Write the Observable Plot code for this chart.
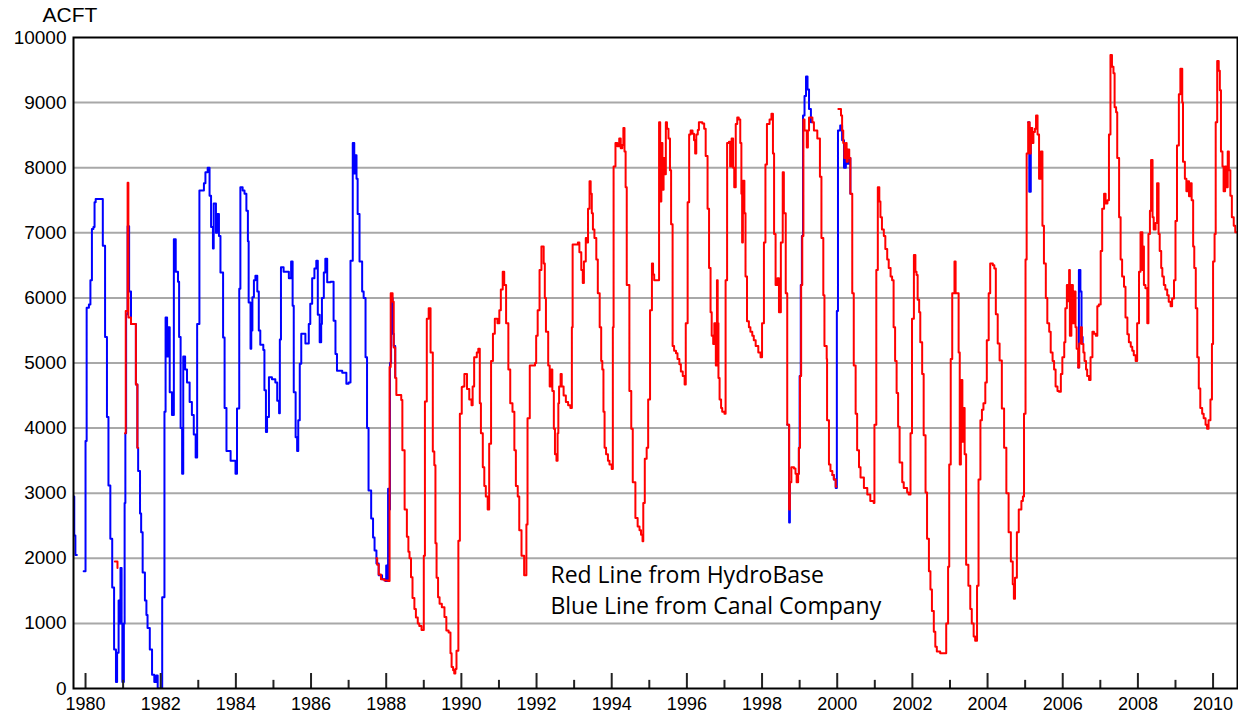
<!DOCTYPE html>
<html><head><meta charset="utf-8">
<script src="https://cdn.jsdelivr.net/npm/d3@7"></script>
<script src="https://cdn.jsdelivr.net/npm/@observablehq/plot@0.6"></script>
<style>html,body{margin:0;padding:0;background:#fff}#chart{width:1238px;height:715px}</style>
</head><body><div id="chart"></div>
<script>
const unitLabel = "ACFT";
const yearTicks = [1980,1982,1984,1986,1988,1990,1992,1994,1996,1998,2000,2002,2004,2006,2008,2010];
const minorYearTicks = [1981,1983,1985,1987,1989,1991,1993,1995,1997,1999,2001,2003,2005,2007,2009];
const valueTicks = [0,1000,2000,3000,4000,5000,6000,7000,8000,9000,10000];
const annotationLines = ["Red Line from HydroBase", "Blue Line from Canal Company"];

// Blue line (Canal Company): [decimal year, acre-feet]; null = gap
const blueReadings = [
[1979.68,2950],[1979.70,2350],[1979.73,2050],[1979.77,2050],[1979.85,null],
[1979.95,1800],[1980.00,3800],[1980.03,5850],[1980.09,5900],[1980.13,6270],[1980.17,7060],[1980.21,7090],[1980.24,7470],[1980.27,7520],
[1980.46,6800],[1980.52,5400],[1980.57,4170],[1980.61,3120],[1980.66,2300],[1980.71,1550],[1980.76,600],[1980.81,100],[1980.84,550],
[1980.88,1350],[1980.90,1000],[1980.93,1850],[1980.96,1000],[1980.98,100],[1981.02,1000],[1981.04,2850],[1981.06,3920],[1981.08,5750],
[1981.12,7100],[1981.16,6100],[1981.21,5600],[1981.34,4670],[1981.38,3700],[1981.40,3340],[1981.45,2690],[1981.48,2400],[1981.52,1780],
[1981.58,1350],[1981.62,1130],[1981.65,930],[1981.71,600],[1981.77,210],[1981.83,100],[1981.88,200],[1981.92,0],[1982.04,1400],
[1982.10,4250],[1982.13,5700],[1982.17,5100],[1982.20,5550],[1982.24,4550],[1982.30,4200],[1982.35,6900],[1982.40,6400],[1982.46,6250],
[1982.49,5400],[1982.53,4000],[1982.57,3300],[1982.60,5100],[1982.65,4900],[1982.70,4700],[1982.77,4400],[1982.83,4200],[1982.88,3900],
[1982.93,3550],[1982.97,5600],[1983.03,7650],[1983.15,7760],[1983.19,7930],[1983.25,8000],[1983.30,7570],[1983.34,7090],[1983.39,6760],
[1983.41,7450],[1983.47,7000],[1983.50,7290],[1983.55,6950],[1983.59,6390],[1983.66,5390],[1983.70,4310],[1983.75,3650],[1983.86,3500],
[1983.99,3300],[1984.03,4300],[1984.09,6140],[1984.12,7700],[1984.18,7650],[1984.23,7600],[1984.28,7340],[1984.32,6870],[1984.34,5930],
[1984.39,5220],[1984.41,5500],[1984.44,6010],[1984.48,6270],[1984.52,6340],[1984.57,6100],[1984.61,5500],[1984.65,5280],[1984.73,5200],
[1984.76,4580],[1984.80,3940],[1984.83,4170],[1984.88,4780],[1984.96,4750],[1985.05,4700],[1985.10,4420],[1985.15,4230],[1985.17,5360],
[1985.20,6470],[1985.27,6400],[1985.41,6300],[1985.47,6560],[1985.51,5880],[1985.54,4550],[1985.59,3860],[1985.63,3650],[1985.66,4120],
[1985.70,4990],[1985.74,5450],[1985.85,5300],[1985.94,5600],[1985.98,5910],[1986.03,6300],[1986.09,6450],[1986.14,6570],[1986.18,5740],
[1986.23,5320],[1986.27,5600],[1986.29,6000],[1986.34,6390],[1986.38,6600],[1986.43,6240],[1986.52,6250],[1986.60,5650],[1986.65,5140],
[1986.69,4880],[1986.83,4850],[1986.94,4680],[1987.00,4700],[1987.05,6570],[1987.11,8380],[1987.15,7910],[1987.18,8190],[1987.21,7830],
[1987.24,7290],[1987.29,6560],[1987.36,6100],[1987.40,6000],[1987.45,5090],[1987.49,4000],[1987.53,3040],[1987.60,2610],[1987.65,2320],
[1987.69,2120],[1987.74,1920],[1987.80,1740],[1987.89,1680],[1987.98,1650],[1988.00,1890],[1988.02,1650],[1988.05,3070],[1988.08,2750],
[1988.10,5000],[1988.13,6000],[1988.17,5450],[1988.20,5260],[1988.24,4780],[1988.26,null],
[1998.67,4050],[1998.72,2550],[1998.74,3170],[1998.76,3170],[1998.80,null],
[1998.96,3300],[1998.98,3700],[1999.00,4800],[1999.03,6200],[1999.06,6950],[1999.09,8800],[1999.13,9100],[1999.17,9400],[1999.21,9200],
[1999.25,8900],[1999.30,8700],[1999.34,8700],[1999.40,null],
[1999.87,3280],[1999.91,3210],[1999.96,3080],[1999.99,5800],[2000.02,8570],[2000.08,8650],[2000.13,8420],[2000.18,8000],[2000.23,8220],
[2000.27,8060],[2000.31,8150],[2000.35,7600],[2000.37,7600],[2000.45,null],
[2005.08,8700],[2005.11,7630],[2005.15,8610],[2005.17,8610],[2005.25,null],
[2006.41,4930],[2006.43,6430],[2006.47,6100],[2006.50,5400],[2006.53,5290]
];

// Red line (HydroBase): [decimal year, acre-feet]; null = gap
const redReadings = [
[1980.78,1950],[1980.85,1850],[1980.95,null],
[1981.05,3920],[1981.07,5800],[1981.12,7770],[1981.14,5700],[1981.21,5600],[1981.34,4670],[1981.38,3700],[1981.40,3700],[1981.50,null],
[1987.74,2000],[1987.76,1900],[1987.80,1750],[1987.86,1680],[1987.95,1660],[1988.05,1650],[1988.09,4940],[1988.12,6070],[1988.17,5940],
[1988.20,5240],[1988.24,4770],[1988.27,4510],[1988.40,4430],[1988.43,3660],[1988.49,2750],[1988.55,2330],[1988.59,2100],[1988.62,2000],
[1988.66,1710],[1988.70,1390],[1988.75,1220],[1988.79,1090],[1988.84,1000],[1988.88,960],[1988.94,900],[1989.00,2040],[1989.03,4410],
[1989.08,5680],[1989.13,5840],[1989.18,5160],[1989.24,3640],[1989.28,3430],[1989.31,2230],[1989.34,1700],[1989.38,1400],[1989.42,1300],
[1989.48,1250],[1989.55,1100],[1989.60,890],[1989.66,860],[1989.71,540],[1989.74,330],[1989.78,280],[1989.81,230],[1989.84,300],
[1989.87,580],[1989.92,2270],[1989.96,4220],[1990.01,4630],[1990.04,4640],[1990.08,4830],[1990.15,4600],[1990.21,4440],[1990.27,4350],
[1990.30,4640],[1990.34,5090],[1990.41,5160],[1990.45,5220],[1990.49,4380],[1990.52,3920],[1990.57,3400],[1990.61,3110],[1990.65,2950],
[1990.70,2750],[1990.74,3760],[1990.79,5030],[1990.84,5450],[1990.89,5680],[1990.96,5610],[1991.01,5810],[1991.05,6130],[1991.10,6400],
[1991.14,6200],[1991.19,5610],[1991.25,4900],[1991.30,4380],[1991.36,4250],[1991.41,3660],[1991.45,3110],[1991.50,2950],[1991.54,2430],
[1991.60,2040],[1991.67,1740],[1991.73,2520],[1991.76,4150],[1991.82,4960],[1991.96,5000],[1991.99,5420],[1992.03,5810],[1992.08,6430],
[1992.13,6790],[1992.19,6530],[1992.22,6000],[1992.25,5480],[1992.31,4960],[1992.35,4640],[1992.39,4900],[1992.42,4570],[1992.46,3990],
[1992.49,3600],[1992.53,3500],[1992.56,3920],[1992.58,4380],[1992.60,4640],[1992.64,4830],[1992.67,4640],[1992.72,4500],[1992.78,4400],
[1992.84,4350],[1992.90,4310],[1992.94,5550],[1992.96,6820],[1993.10,6850],[1993.14,6700],[1993.19,6430],[1993.23,6230],[1993.26,6560],
[1993.31,6920],[1993.34,6850],[1993.37,7370],[1993.41,7790],[1993.44,7600],[1993.47,7300],[1993.50,7050],[1993.54,6920],[1993.59,6590],
[1993.63,6070],[1993.68,5550],[1993.72,5030],[1993.75,4900],[1993.78,4250],[1993.81,3700],[1993.85,3600],[1993.90,3500],[1993.94,3440],
[1994.00,3370],[1994.03,5550],[1994.05,8020],[1994.10,8380],[1994.15,8330],[1994.20,8450],[1994.24,8300],[1994.28,8350],[1994.31,8610],
[1994.34,8250],[1994.37,7700],[1994.40,6200],[1994.47,4570],[1994.52,3990],[1994.56,3170],[1994.63,2620],[1994.69,2490],[1994.74,2430],
[1994.78,2360],[1994.82,2260],[1994.84,2850],[1994.88,3530],[1994.93,3700],[1994.97,4440],[1995.02,5810],[1995.07,6530],[1995.10,6360],
[1995.13,6270],[1995.26,8700],[1995.29,7480],[1995.32,8380],[1995.35,7660],[1995.38,8150],[1995.41,7900],[1995.44,8700],[1995.47,8600],
[1995.51,8450],[1995.55,7960],[1995.58,7130],[1995.62,5260],[1995.66,5190],[1995.71,5150],[1995.75,5060],[1995.80,4980],[1995.84,4870],
[1995.89,4800],[1995.94,4670],[1995.97,5610],[1996.02,7470],[1996.06,8510],[1996.10,8570],[1996.15,8520],[1996.19,8420],[1996.22,8220],
[1996.25,8510],[1996.29,8580],[1996.32,8700],[1996.41,8680],[1996.46,8600],[1996.50,8180],[1996.55,7370],[1996.59,6460],[1996.63,5780],
[1996.66,5420],[1996.70,5290],[1996.73,5610],[1996.77,4960],[1996.80,6270],[1996.82,5610],[1996.84,4770],[1996.87,4440],[1996.91,4310],
[1996.94,4250],[1997.00,4220],[1997.03,6270],[1997.07,8380],[1997.12,8400],[1997.15,8020],[1997.19,8450],[1997.23,8000],[1997.26,7700],
[1997.30,8670],[1997.34,8770],[1997.38,8740],[1997.42,8380],[1997.45,7600],[1997.47,6850],[1997.49,7800],[1997.53,7300],[1997.56,6330],
[1997.60,5640],[1997.65,5550],[1997.69,5480],[1997.74,5420],[1997.78,5350],[1997.83,5260],[1997.90,5160],[1997.96,5090],[1998.00,5610],
[1998.05,6850],[1998.09,8050],[1998.13,8670],[1998.20,8740],[1998.25,8830],[1998.29,8220],[1998.32,6980],[1998.36,6200],[1998.41,6300],
[1998.45,5780],[1998.50,6850],[1998.55,7930],[1998.58,7300],[1998.63,6070],[1998.67,4050],[1998.72,2750],[1998.74,3170],[1998.78,3400],
[1998.85,3380],[1998.89,3300],[1998.92,3170],[1998.96,3300],[1998.98,3700],[1999.01,4800],[1999.04,6200],[1999.07,6950],[1999.10,8740],
[1999.13,8570],[1999.19,8310],[1999.22,8570],[1999.25,8770],[1999.34,8700],[1999.38,8570],[1999.47,8450],[1999.54,7860],[1999.58,6920],
[1999.63,6040],[1999.66,5260],[1999.72,5060],[1999.73,4120],[1999.78,3440],[1999.82,3340],[1999.87,3280],[1999.91,3210],[1999.96,3100],
[1999.98,3100],[2000.00,null],
[2000.03,8900],[2000.10,8800],[2000.13,8570],[2000.16,8380],[2000.19,8150],[2000.23,8380],[2000.25,8090],[2000.28,8280],[2000.32,8150],
[2000.35,7600],[2000.40,6070],[2000.44,4960],[2000.49,4220],[2000.53,3660],[2000.58,3400],[2000.62,3240],[2000.71,3080],[2000.80,2980],
[2000.88,2880],[2000.97,2850],[2000.99,4050],[2001.04,6430],[2001.08,7700],[2001.12,7480],[2001.15,7240],[2001.19,7050],[2001.24,6950],
[2001.28,6750],[2001.33,6590],[2001.37,6460],[2001.42,6330],[2001.46,6270],[2001.50,5550],[2001.54,5030],[2001.58,4540],[2001.62,4020],
[2001.66,3470],[2001.73,3170],[2001.77,3080],[2001.86,3010],[2001.90,2980],[2001.95,3920],[2001.99,5680],[2002.04,6660],[2002.08,6400],
[2002.11,6350],[2002.14,5970],[2002.18,5780],[2002.21,5320],[2002.26,4830],[2002.30,3890],[2002.35,3010],[2002.39,2300],[2002.44,1800],
[2002.48,1520],[2002.52,1190],[2002.57,870],[2002.61,640],[2002.65,570],[2002.74,540],[2002.88,540],[2002.90,1000],[2002.95,1870],
[2002.98,3440],[2003.02,5060],[2003.06,6070],[2003.12,6560],[2003.15,6070],[2003.23,5160],[2003.26,3440],[2003.29,4740],[2003.33,3790],
[2003.36,4310],[2003.39,3600],[2003.43,1900],[2003.49,1580],[2003.54,1220],[2003.58,1000],[2003.63,800],[2003.67,735],[2003.72,1580],
[2003.76,3210],[2003.81,4120],[2003.85,4280],[2003.89,4380],[2003.94,4700],[2003.98,5350],[2004.03,6070],[2004.07,6530],[2004.14,6500],
[2004.18,6450],[2004.22,5750],[2004.27,5300],[2004.32,5040],[2004.38,4300],[2004.44,3700],[2004.50,3000],[2004.56,2400],[2004.62,1950],
[2004.67,1600],[2004.70,1380],[2004.73,1700],[2004.78,2400],[2004.83,2750],[2004.90,2880],[2004.94,2950],[2004.97,4220],[2005.01,6590],
[2005.04,8220],[2005.08,8700],[2005.12,8220],[2005.15,8610],[2005.19,8380],[2005.22,8550],[2005.26,8600],[2005.29,8800],[2005.33,8510],
[2005.37,7830],[2005.42,8250],[2005.46,7110],[2005.50,6530],[2005.55,6000],[2005.59,5610],[2005.64,5480],[2005.68,5160],[2005.73,5030],
[2005.77,4900],[2005.81,4640],[2005.86,4570],[2005.90,4560],[2005.95,4830],[2005.99,5090],[2006.04,5320],[2006.07,5840],[2006.11,6200],
[2006.14,5950],[2006.17,6430],[2006.19,5420],[2006.23,6200],[2006.27,5610],[2006.30,6100],[2006.34,5550],[2006.37,5220],[2006.41,4930],
[2006.44,5300],[2006.48,5550],[2006.51,5290],[2006.55,5160],[2006.58,5030],[2006.62,4900],[2006.65,4800],[2006.70,4740],[2006.74,5090],
[2006.79,5480],[2006.83,5450],[2006.88,5420],[2006.92,5870],[2006.96,5900],[2007.01,6720],[2007.05,7370],[2007.10,7600],[2007.14,7450],
[2007.19,7500],[2007.23,8510],[2007.27,9730],[2007.31,9550],[2007.35,9450],[2007.38,8930],[2007.42,8850],[2007.45,8150],[2007.50,7240],
[2007.54,6590],[2007.58,6330],[2007.63,6170],[2007.67,5700],[2007.72,5440],[2007.76,5320],[2007.81,5250],[2007.85,5190],[2007.89,5120],
[2007.94,5030],[2007.98,5610],[2008.03,6400],[2008.07,7010],[2008.12,6430],[2008.14,6790],[2008.16,6200],[2008.20,6150],[2008.25,5610],
[2008.28,6980],[2008.32,7340],[2008.35,8120],[2008.39,7240],[2008.42,7050],[2008.47,7150],[2008.51,7760],[2008.55,6980],[2008.58,6720],
[2008.62,6460],[2008.65,6330],[2008.69,6200],[2008.73,6130],[2008.78,6040],[2008.82,5940],[2008.87,5870],[2008.91,5990],[2008.96,6270],
[2009.00,7180],[2009.04,8340],[2009.09,9130],[2009.13,9520],[2009.18,9000],[2009.20,8090],[2009.25,7830],[2009.29,7640],[2009.33,7790],
[2009.36,7560],[2009.40,7760],[2009.43,7500],[2009.47,6790],[2009.50,6460],[2009.54,5840],[2009.58,5090],[2009.62,4610],[2009.66,4310],
[2009.71,4220],[2009.75,4150],[2009.80,4050],[2009.84,3990],[2009.88,4120],[2009.93,4440],[2009.97,5290],[2010.00,6560],[2010.04,6980],
[2010.07,8700],[2010.11,9640],[2010.15,9490],[2010.18,9190],[2010.21,8250],[2010.25,8020],[2010.28,7640],[2010.32,8020],[2010.35,7700],
[2010.39,8250],[2010.42,7960],[2010.46,7570],[2010.50,7240],[2010.55,7110],[2010.59,7010],[2010.66,7010]
];

const toRows = (pairs) => pairs.map(([x, v]) => ({x, v}));

const chart = Plot.plot({
  width: 1238,
  height: 715,
  marginLeft: 73,
  marginRight: 1,
  marginTop: 37,
  marginBottom: 27,
  style: {background: "#fff", fontFamily: "'Liberation Sans', Arial, sans-serif", color: "#000"},
  x: {domain: [1979.68, 2010.65], label: null},
  y: {domain: [0, 10000], label: null},
  marks: [
    Plot.ruleY(valueTicks.slice(1, -1), {y: d => d, stroke: "#a8a8a8", strokeWidth: 2}),
    Plot.line(toRows(blueReadings), {x: "x", y: "v", stroke: "#0000ff", strokeWidth: 2, curve: "step-after", clip: true}),
    Plot.line(toRows(redReadings), {x: "x", y: "v", stroke: "#ff0000", strokeWidth: 2, curve: "step-after", clip: true}),
    Plot.ruleX(yearTicks, {x: d => d, y1: 0, y2: 230, stroke: "#222", strokeWidth: 2}),
    Plot.ruleX(minorYearTicks, {x: d => d, y1: 0, y2: 125, stroke: "#222", strokeWidth: 2}),
    Plot.frame({stroke: "#000", strokeWidth: 2}),
    Plot.axisX({ticks: yearTicks, tickSize: 0, tickPadding: 9, tickFormat: d => String(d), fontSize: 18, label: null}),
    Plot.axisY({ticks: valueTicks, tickSize: 0, tickPadding: 7, tickFormat: d => String(d), fontSize: 19, label: null}),
    Plot.text([unitLabel], {frameAnchor: "top-left", dx: -31, dy: -15.5, text: d => d, textAnchor: "start", lineAnchor: "bottom", fontSize: 21, fill: "#000"}),
    Plot.text([annotationLines.join("\n")], {x: 1992.37, y: 1140, text: d => d, textAnchor: "start", lineAnchor: "bottom", lineHeight: 1.35, fontSize: 23, fontFamily: "'Open Sans', 'Noto Sans', sans-serif", fill: "#000"})
  ]
});
document.getElementById("chart").appendChild(chart);
</script>
</body></html>
